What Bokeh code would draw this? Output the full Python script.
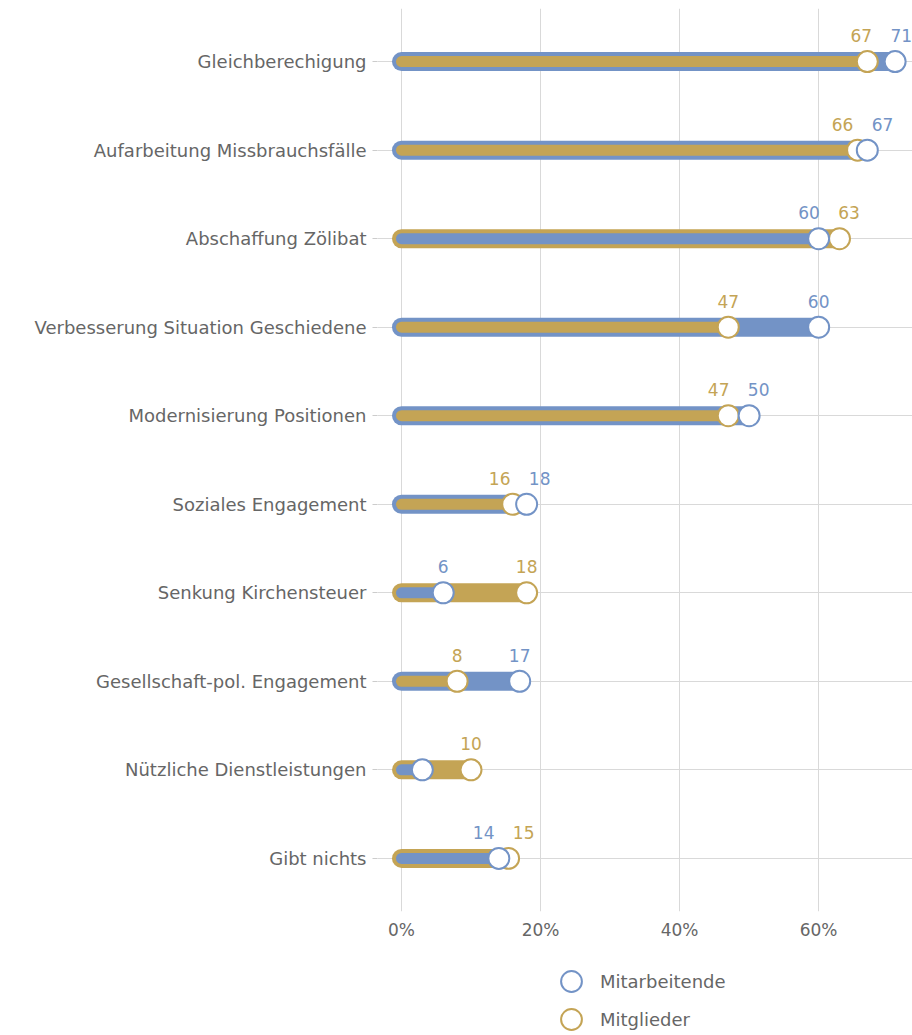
from bokeh.plotting import figure
from bokeh.layouts import column
from bokeh.models import (ColumnDataSource, FactorRange, Range1d, FixedTicker,
                          PrintfTickFormatter, Legend, LegendItem)
from bokeh.embed import file_html
from bokeh.resources import INLINE
from bokeh.core.properties import value

categories = ["Gleichberechigung", "Aufarbeitung Missbrauchsfälle", "Abschaffung Zölibat",
              "Verbesserung Situation Geschiedene", "Modernisierung Positionen",
              "Soziales Engagement", "Senkung Kirchensteuer", "Gesellschaft-pol. Engagement",
              "Nützliche Dienstleistungen", "Gibt nichts"]
mitarbeitende = [71, 67, 60, 60, 50, 18, 6, 17, 3, 14]
mitglieder = [67, 65.6, 63, 47, 47, 16, 18, 8, 10, 15.4]
x_ticks = [0, 20, 40, 60]
series_names = ["Mitarbeitende", "Mitglieder"]

BLUE = "#7393c6"
GOLD = "#c4a455"
TEXT = "#666666"
GRID = "#d9d9d9"
FONT = "DejaVu Sans"
FS = "17px"
FS_CAT = "18px"

X0, X1 = -3.45, 73.5
FRAME_W, FRAME_H = 535, 903
TOP, LEFT, BOTTOM = 8, 377, 34
ppu = FRAME_W / (X1 - X0)

p = figure(y_range=FactorRange(*reversed(categories), range_padding=0.1,
                               range_padding_units="absolute"),
           x_range=Range1d(X0, X1), frame_width=FRAME_W, frame_height=FRAME_H,
           min_border_left=LEFT, min_border_right=0, min_border_top=TOP,
           min_border_bottom=BOTTOM,
           output_backend="svg", toolbar_location=None)
p.outline_line_color = None

# bars: longer one thick underneath, shorter one thin on top
long_x, long_c, short_x, short_c = [], [], [], []
for b, g in zip(mitarbeitende, mitglieder):
    if b >= g:
        long_x.append(b); long_c.append(BLUE); short_x.append(g); short_c.append(GOLD)
    else:
        long_x.append(g); long_c.append(GOLD); short_x.append(b); short_c.append(BLUE)
zeros = [0] * len(categories)
p.segment(x0=zeros, y0=categories, x1=long_x, y1=categories, line_color=long_c,
          line_width=19, line_cap="round")
p.segment(x0=zeros, y0=categories, x1=short_x, y1=categories, line_color=short_c,
          line_width=11, line_cap="round")

p.scatter(x=mitglieder, y=categories, size=21, fill_color="white",
          line_color=GOLD, line_width=2)
p.scatter(x=mitarbeitende, y=categories, size=21, fill_color="white",
          line_color=BLUE, line_width=2)

# value labels, pushed apart when they would collide
MIN_SEP = 40
lab = {"x": [], "y": [], "t": [], "c": [], "o": []}
for cat, b, g in zip(categories, mitarbeitende, mitglieder):
    bp, gp = b * ppu, g * ppu
    ob = og = 0.0
    if abs(bp - gp) < MIN_SEP:
        mid = (bp + gp) / 2
        sgn = 1 if bp >= gp else -1
        ob = mid + sgn * MIN_SEP / 2 - bp
        og = mid - sgn * MIN_SEP / 2 - gp
    for v, o, c in ((b, ob, BLUE), (g, og, GOLD)):
        if v < 5:
            continue
        lab["x"].append(v); lab["y"].append(cat); lab["t"].append(str(round(v)))
        lab["c"].append(c); lab["o"].append(o)
src = ColumnDataSource(lab)
p.text(x="x", y="y", text="t", source=src, x_offset="o", y_offset=-26,
       text_color="c", text_font=value(FONT), text_font_size=FS,
       text_align="center", text_baseline="middle")

p.xaxis.ticker = FixedTicker(ticks=x_ticks)
p.xaxis.formatter = PrintfTickFormatter(format="%d%%")
p.xaxis.axis_line_color = None
p.xaxis.major_tick_line_color = None
p.xaxis.major_tick_out = 0
p.xaxis.major_tick_in = 0
p.xaxis.minor_tick_line_color = None
p.xaxis.major_label_standoff = 8
p.xaxis.major_label_text_font = FONT
p.xaxis.major_label_text_font_size = FS
p.xaxis.major_label_text_color = TEXT

p.yaxis.axis_line_color = None
p.yaxis.major_tick_line_color = "#cccccc"
p.yaxis.major_tick_out = 5
p.yaxis.major_tick_in = 0
p.yaxis.major_label_standoff = 6
p.yaxis.major_label_text_font = FONT
p.yaxis.major_label_text_font_size = FS_CAT
p.yaxis.major_label_text_color = TEXT

p.xgrid.ticker = FixedTicker(ticks=x_ticks)
p.xgrid.grid_line_color = GRID
p.ygrid.grid_line_color = GRID

# legend panel below the chart
P_H = TOP + FRAME_H + BOTTOM
L_H = 1035 - P_H
p2 = figure(frame_width=LEFT + FRAME_W, frame_height=L_H,
            x_range=Range1d(0, 1), y_range=Range1d(0, 1),
            x_axis_location=None, y_axis_location=None,
            min_border=0, output_backend="svg", toolbar_location=None)
p2.grid.visible = False
p2.outline_line_color = None
# legend proxies: one point each, outside the visible range of this panel
lb = p2.scatter(x=[-5], y=[-5], size=21, fill_color="white", line_color=BLUE, line_width=2)
lg = p2.scatter(x=[-5], y=[-5], size=21, fill_color="white", line_color=GOLD, line_width=2)

GLYPH = 52          # legend marker size = 0.4 * glyph box
ITEM_CENTERS = [981, 1019]
for name, rend, cy in zip(series_names, [lb, lg], ITEM_CENTERS):
    box_bottom = cy - P_H + GLYPH // 2
    leg = Legend(items=[LegendItem(label=name, renderers=[rend])],
                 location=(571 - GLYPH // 2, L_H - box_bottom),
                 orientation="vertical",
                 glyph_width=GLYPH, glyph_height=GLYPH, label_height=20, spacing=0,
                 padding=0, margin=0, label_standoff=3,
                 label_text_font=FONT, label_text_font_size=FS_CAT,
                 label_text_color=TEXT, background_fill_alpha=0,
                 border_line_color=None)
    p2.add_layout(leg, "center")

open("out.html", "w").write(file_html(column(p, p2, spacing=0), INLINE))
